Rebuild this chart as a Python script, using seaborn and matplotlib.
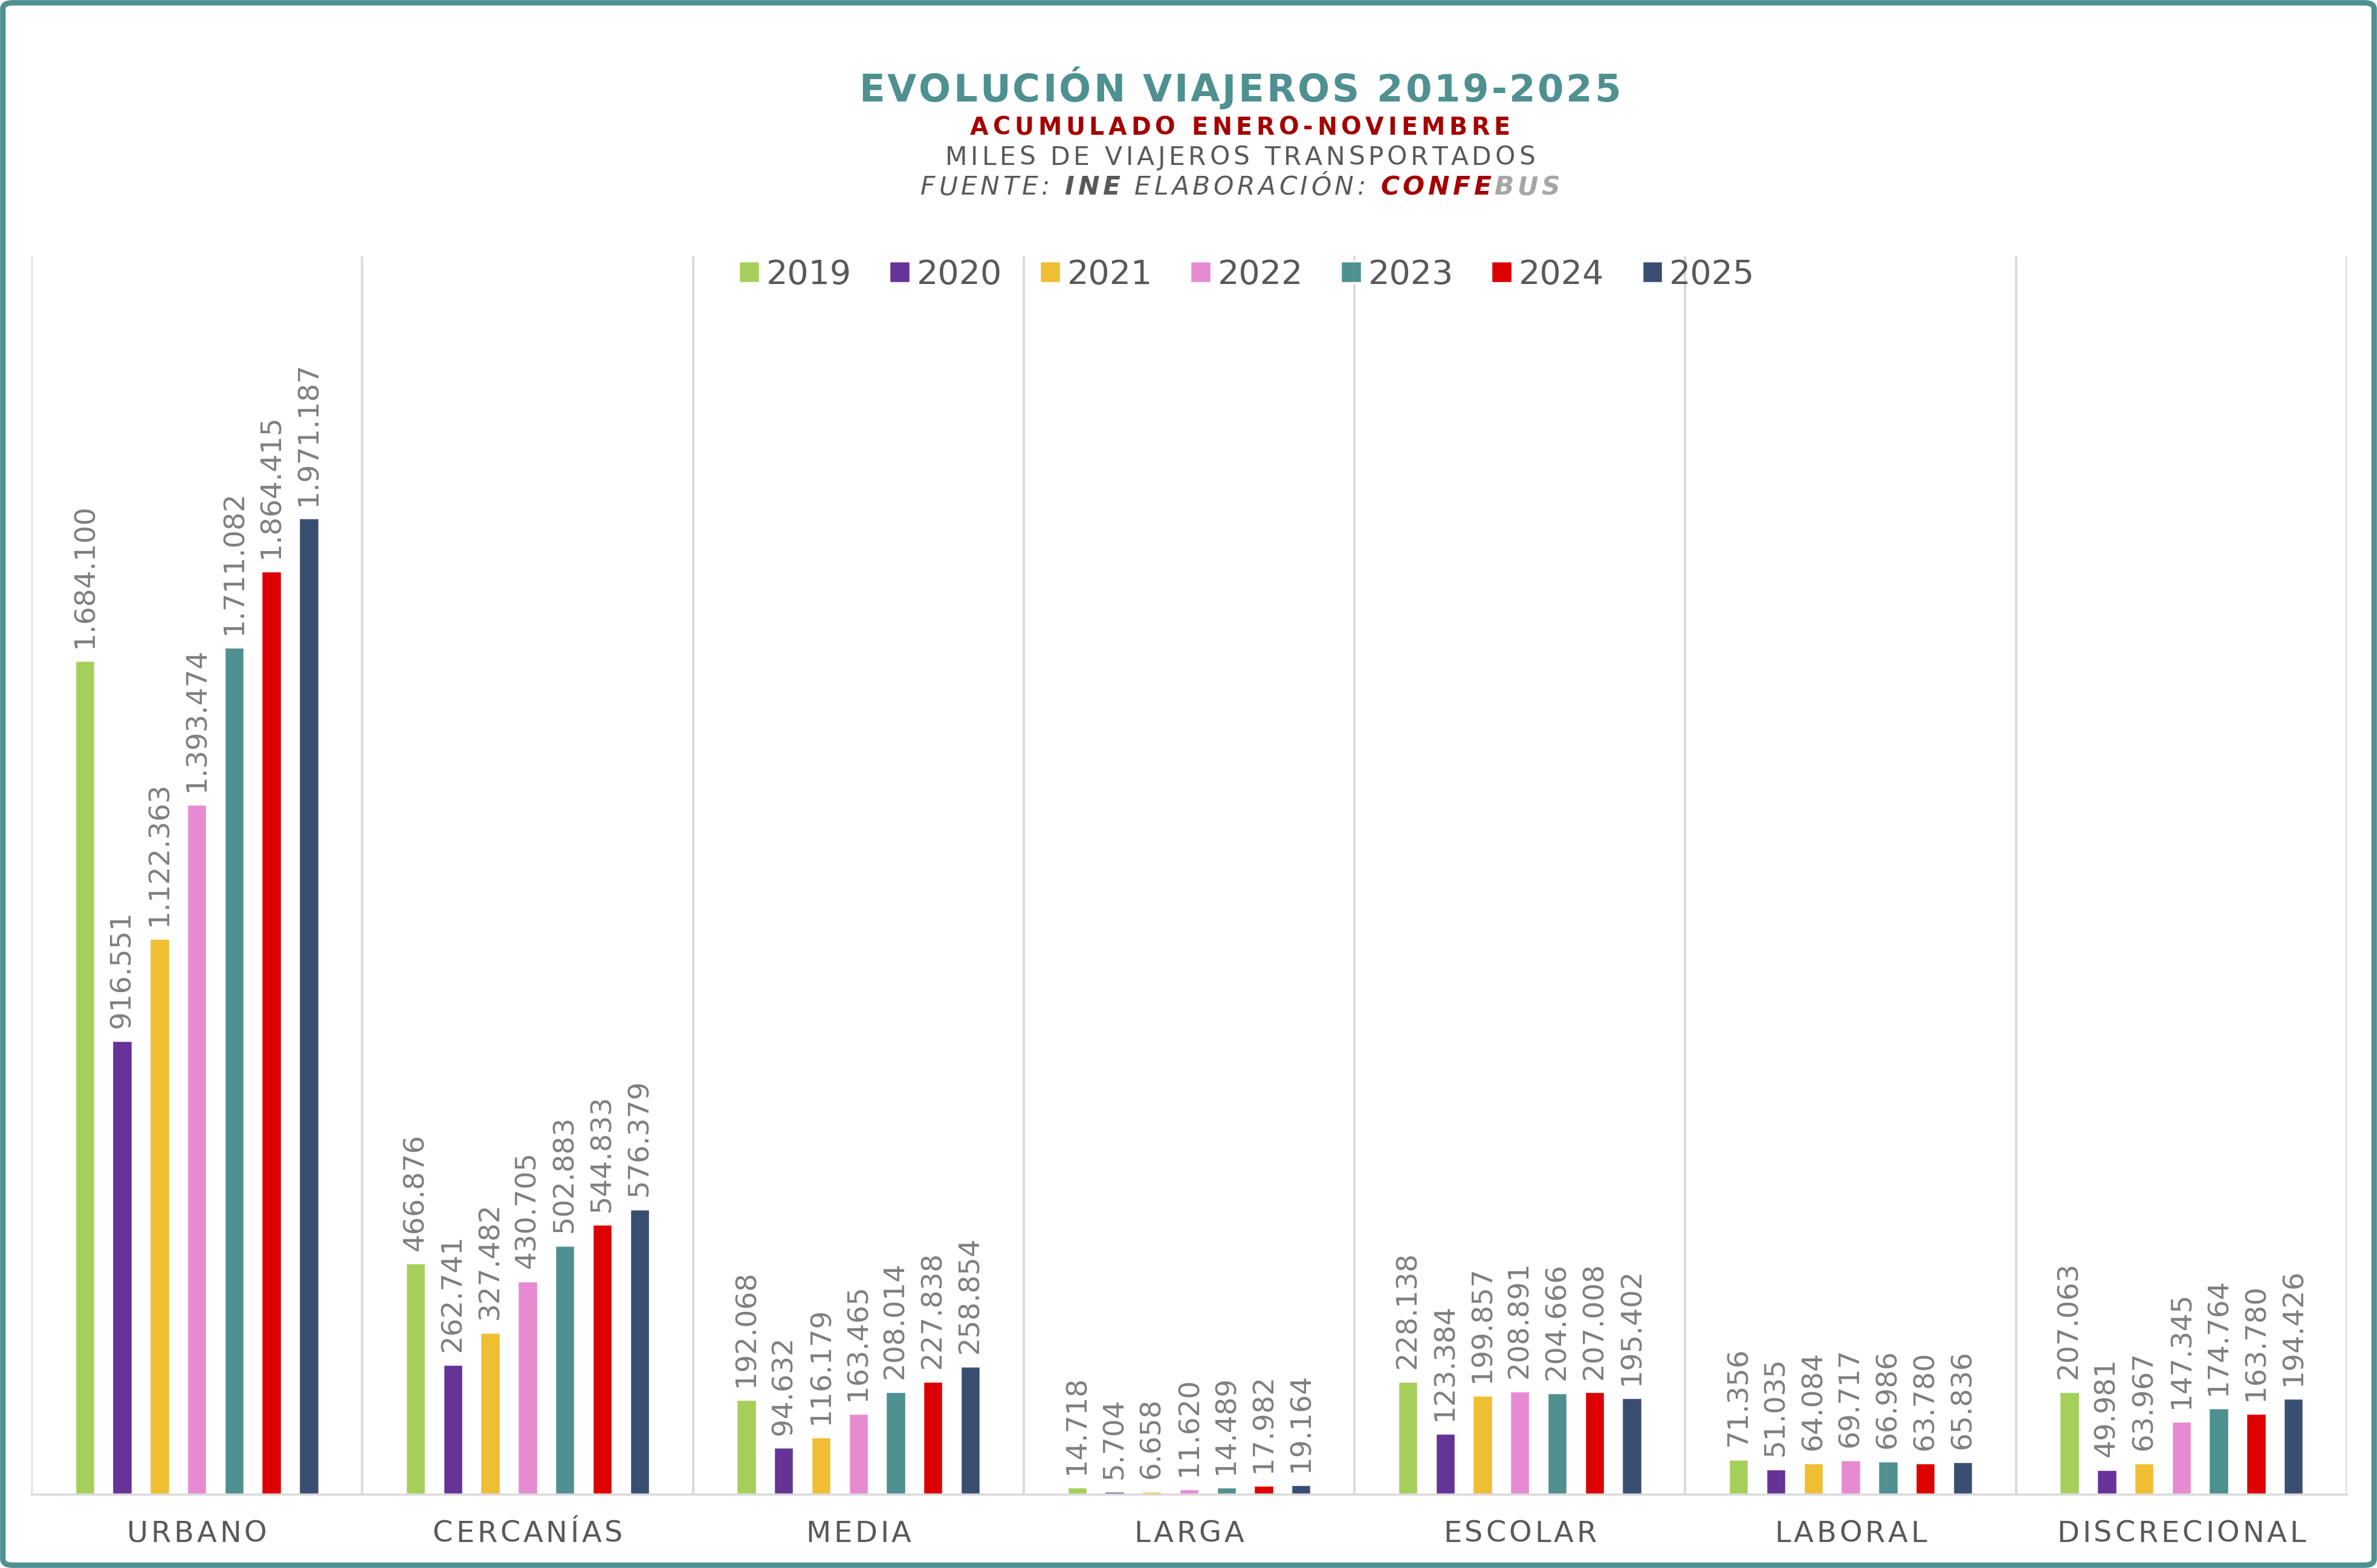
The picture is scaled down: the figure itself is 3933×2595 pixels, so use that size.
import numpy as np
import pandas as pd
import matplotlib.pyplot as plt
import seaborn as sns
from matplotlib.patches import FancyBboxPatch
from matplotlib.font_manager import FontProperties

# ---------- Data (miles de viajeros, acumulado enero-noviembre) ----------
categorias = ['URBANO', 'CERCANÍAS', 'MEDIA', 'LARGA', 'ESCOLAR', 'LABORAL', 'DISCRECIONAL']
anios = ['2019', '2020', '2021', '2022', '2023', '2024', '2025']

v2019 = [1684100, 466876, 192068, 14718, 228138, 71356, 207063]
v2020 = [916551, 262741, 94632, 5704, 123384, 51035, 49981]
v2021 = [1122363, 327482, 116179, 6658, 199857, 64084, 63967]
v2022 = [1393474, 430705, 163465, 11620, 208891, 69717, 147345]
v2023 = [1711082, 502883, 208014, 14489, 204666, 66986, 174764]
v2024 = [1864415, 544833, 227838, 17982, 207008, 63780, 163780]
v2025 = [1971187, 576379, 258854, 19164, 195402, 65836, 194426]

colores = ['#A5CF5A', '#663399', '#F0BE32', '#E68BD2', '#4F9090', '#DD0000', '#3A4E72']

series = [v2019, v2020, v2021, v2022, v2023, v2024, v2025]
df = pd.DataFrame([
    {'tipo': cat, 'anio': anio, 'viajeros': vals[i]}
    for anio, vals in zip(anios, series)
    for i, cat in enumerate(categorias)
])

TEAL = '#4F9090'
RED = '#A50000'
GRAY = '#595959'
GRID = '#D9D9D9'

sns.set_style('white')
plt.rcParams['font.family'] = ['DejaVu Sans']

fig = plt.figure(figsize=(15.732, 10.38), dpi=250)
ax = fig.add_axes([0.01322, 0.0470, 0.97407, 0.7896])


def texto_espaciado(cx_pix, y_frac, trozos, size, tracking):
    """Draw a line of text char by char with extra letter spacing (in em)."""
    r = fig.canvas.get_renderer()
    items = []
    for s, kw in trozos:
        fp = FontProperties(family='DejaVu Sans', size=size,
                            weight=kw.get('weight', 'normal'),
                            style=kw.get('style', 'normal'))
        hh = r.get_text_width_height_descent('HH', fp, ismath=False)[0]
        for ch in s:
            w = r.get_text_width_height_descent('H' + ch + 'H', fp, ismath=False)[0] - hh
            items.append((ch, fp, kw.get('color', GRAY), w))
    extra = tracking * size * fig.dpi / 72
    total = sum(i[3] for i in items) + extra * (len(items) - 1)
    x = cx_pix - total / 2
    for ch, fp, color, w in items:
        if ch != ' ':
            fig.text(x / fig.bbox.width, y_frac, ch, fontproperties=fp,
                     color=color, ha='left', va='baseline')
        x += w + extra


sns.barplot(data=df, x='tipo', y='viajeros', hue='anio', hue_order=anios,
            palette=dict(zip(anios, colores)), saturation=1, errorbar=None,
            width=0.79, gap=0.46, ax=ax)

ax.set_xlim(-0.5, len(categorias) - 0.5)
ax.set_ylim(0, 2500000)
ax.set_yticks([])
ax.set_xlabel('')
ax.set_ylabel('')

for x in np.arange(-0.5, len(categorias), 1.0):
    ax.axvline(x, color=GRID, lw=1.1, zorder=0)

for side in ['top', 'left', 'right']:
    ax.spines[side].set_visible(False)
ax.spines['bottom'].set_color(GRID)
ax.spines['bottom'].set_linewidth(1.0)

# category names drawn with letter spacing instead of tick labels
ax.set_xticklabels([])
ax.tick_params(axis='x', length=0)
for i, cat in enumerate(categorias):
    xpix = ax.transData.transform((i, 0))[0]
    texto_espaciado(xpix, 0.0166, [(cat, {})], 13.8, 0.10)

# data labels, Spanish thousands separator
for cont in ax.containers:
    etiquetas = [f"{int(v):,}".replace(',', '.') for v in cont.datavalues]
    ax.bar_label(cont, labels=etiquetas, rotation=90, padding=6,
                 fontsize=13.5, color='#7F7F7F')

# legend across the top of the plot
handles, labels = ax.get_legend_handles_labels()
ax.get_legend().remove()
fig.legend(handles, labels, loc='center', bbox_to_anchor=(0.5245, 0.8247),
           ncol=7, frameon=False, fontsize=16, labelcolor=GRAY,
           handlelength=0.62, handleheight=0.62, handletextpad=0.2,
           columnspacing=1.12)

# ---------- Titles ----------
cx = 0.5217 * fig.bbox.width
texto_espaciado(cx, 0.9353, [('EVOLUCIÓN VIAJEROS 2019-2025',
                              {'weight': 'bold', 'color': TEAL})], 18, 0.06)
texto_espaciado(cx, 0.9141, [('ACUMULADO ENERO-NOVIEMBRE',
                              {'weight': 'bold', 'color': RED})], 11.4, 0.17)
texto_espaciado(cx, 0.8948, [('MILES DE VIAJEROS TRANSPORTADOS', {})], 12.2, 0.135)
texto_espaciado(cx, 0.8759, [
    ('FUENTE: ', {'style': 'italic'}),
    ('INE', {'style': 'italic', 'weight': 'bold'}),
    (' ELABORACIÓN: ', {'style': 'italic'}),
    ('CONFE', {'style': 'italic', 'weight': 'bold', 'color': RED}),
    ('BUS', {'style': 'italic', 'weight': 'bold', 'color': '#A6A6A6'}),
], 12.2, 0.13)

# outer rounded border
marco = FancyBboxPatch((0.0012, 0.0018), 0.9976, 0.9964,
                       boxstyle='round,pad=0,rounding_size=0.004',
                       transform=fig.transFigure, fill=False,
                       edgecolor=TEAL, lw=2.6)
fig.patches.append(marco)

fig.savefig('out.png', dpi=250, facecolor='white')
